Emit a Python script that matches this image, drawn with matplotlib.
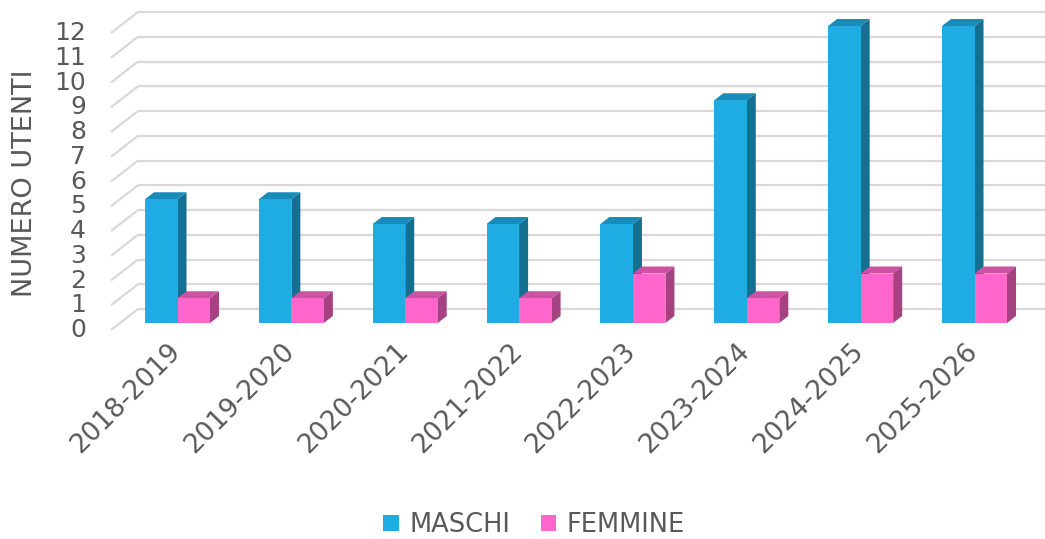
import matplotlib
matplotlib.use("Agg")
import matplotlib.pyplot as plt
from matplotlib.patches import Polygon, Patch

# ---- data ----
categories = ["2018-2019", "2019-2020", "2020-2021", "2021-2022",
              "2022-2023", "2023-2024", "2024-2025", "2025-2026"]
maschi = [5, 5, 4, 4, 4, 9, 12, 12]
femmine = [1, 1, 1, 1, 2, 1, 2, 2]
y_ticks = list(range(0, 13))
series_names = ["MASCHI", "FEMMINE"]

# ---- styling ----
blue = {"front": "#1FACE3", "side": "#146F90", "top": "#1A8BB9"}
pink = {"front": "#FF66CC", "side": "#A44282", "top": "#CC52A3"}
grid_c = "#D9D9D9"
text_c = "#595959"

W, H = 1045, 539
fig = plt.figure(figsize=(W / 100, H / 100), dpi=100)
ax = fig.add_axes([0, 0, 1, 1])

# pixel mapping: x_px = 177.5 + 113.86*x ; y_px = 323 - 24.75*v
sx, x0 = 113.86, 177.5
sy, y0 = 24.75, 323.0
ax.set_xlim((0 - x0) / sx, (W - x0) / sx)
ax.set_ylim((y0 - H) / sy, (y0 - 0) / sy)
ax.axis("off")

# depth unit (one step in depth)
ddx = 9.0 / sx
ddy = 7.0 / sy

bw = 32.5 / sx  # bar width

# back wall gridlines (depth +2 from bar front) and floor-side diagonals
wall_left = (138 - x0) / sx
front_left = (111 - x0) / sx
for v in y_ticks:
    yw = v + 2 * ddy
    ax.plot([wall_left, (W + 5 - x0) / sx], [yw, yw], color=grid_c, lw=1.6,
            zorder=1, solid_capstyle="butt")
    ax.plot([front_left, wall_left], [v - ddy, yw], color=grid_c, lw=1.6,
            zorder=1, solid_capstyle="butt")


def bar3d(xl, v, col, z):
    xr = xl + bw
    ax.add_patch(Polygon([(xl, 0), (xr, 0), (xr, v), (xl, v)], closed=True,
                         facecolor=col["front"], edgecolor="none", zorder=z + 0.2))
    ax.add_patch(Polygon([(xr, 0), (xr + ddx, ddy), (xr + ddx, v + ddy), (xr, v)],
                         closed=True, facecolor=col["side"], edgecolor="none", zorder=z))
    ax.add_patch(Polygon([(xl, v), (xl + ddx, v + ddy), (xr + ddx, v + ddy), (xr, v)],
                         closed=True, facecolor=col["top"], edgecolor="none", zorder=z))


for i, (m, f) in enumerate(zip(maschi, femmine)):
    bar3d(i - bw, m, blue, 2)
    bar3d(i, f, pink, 3)

# y tick labels (front plane)
for v in y_ticks:
    ax.text((86 - x0) / sx, v - ddy, str(v), ha="right", va="center",
            fontsize=18, color=text_c)

# y axis title
ax.text((25 - x0) / sx, (y0 - 183) / sy, "NUMERO UTENTI", rotation=90,
        ha="center", va="center", fontsize=19.5, color=text_c)

# x tick labels
for i, c in enumerate(categories):
    ax.text(i - (10 / sx), (y0 - 338) / sy, c, rotation=45, rotation_mode="anchor",
            ha="right", va="top", fontsize=19, color=text_c)

handles = [Patch(facecolor=blue["front"]), Patch(facecolor=pink["front"])]
fig.legend(handles, series_names, loc="center", bbox_to_anchor=(0.511, 1 - 525 / H),
           ncol=2, frameon=False, fontsize=18.5, labelcolor=text_c,
           handlelength=0.6, handleheight=0.6, handletextpad=0.4, columnspacing=1.2)

fig.savefig("out.png", dpi=100)
